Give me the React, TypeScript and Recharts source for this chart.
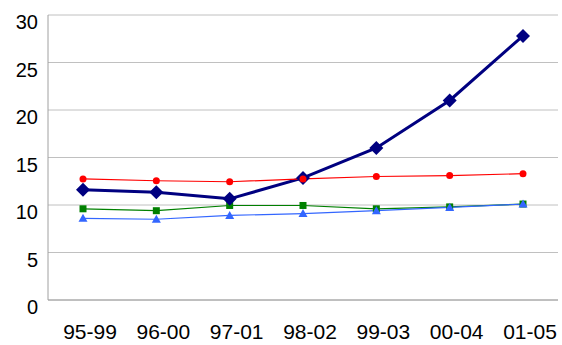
import { LineChart, Line, XAxis, YAxis, CartesianGrid } from 'recharts';

const periods = ['95-99', '96-00', '97-01', '98-02', '99-03', '00-04', '01-05'];
const navySeries = [11.6, 11.35, 10.65, 12.85, 16.0, 21.0, 27.8];
const redSeries = [12.75, 12.55, 12.45, 12.75, 13.0, 13.1, 13.3];
const greenSeries = [9.6, 9.4, 9.95, 9.95, 9.6, 9.8, 10.1];
const blueSeries = [8.6, 8.5, 8.9, 9.1, 9.4, 9.75, 10.1];
const yTicks = [0, 5, 10, 15, 20, 25, 30];

const data = periods.map((p, i) => ({
  period: p,
  navy: navySeries[i],
  red: redSeries[i],
  green: greenSeries[i],
  blue: blueSeries[i],
}));

const FONT = 'Liberation Sans, Arial, sans-serif';
const BORDER = '#a0a0a0';

// marker shapes
const Diamond = (props: any) => {
  const { cx, cy } = props;
  if (cx == null || cy == null) return null;
  const r = 7;
  return <path d={`M${cx},${cy - r}L${cx + r},${cy}L${cx},${cy + r}L${cx - r},${cy}Z`} fill="#000080" />;
};

const Square = (props: any) => {
  const { cx, cy } = props;
  if (cx == null || cy == null) return null;
  return <rect x={cx - 3.5} y={cy - 3.5} width={7} height={7} fill="#008000" />;
};

const Triangle = (props: any) => {
  const { cx, cy } = props;
  if (cx == null || cy == null) return null;
  return <path d={`M${cx},${cy - 4.5}L${cx + 4.5},${cy + 3.5}L${cx - 4.5},${cy + 3.5}Z`} fill="#3366ff" />;
};

const Circle = (props: any) => {
  const { cx, cy } = props;
  if (cx == null || cy == null) return null;
  return <circle cx={cx} cy={cy} r={3.5} fill="#ff0000" />;
};

const YTick = (props: any) => {
  const { x, y, payload } = props;
  return (
    <text x={x - 2} y={y + 14} textAnchor="end" fontSize={20} fontFamily={FONT} fill="#000">
      {payload.value}
    </text>
  );
};

const XTick = (props: any) => {
  const { x, y, payload } = props;
  return (
    <text x={x + 7} y={y + 14} textAnchor="middle" fontSize={21} fontFamily={FONT} fill="#000">
      {payload.value}
    </text>
  );
};

export default function App() {
  return (
    <div style={{ position: 'absolute', left: 0, top: 0, width: 562, height: 345, background: '#fff' }}>
      <LineChart width={562} height={345} data={data} margin={{ top: 15, right: 4, left: 0, bottom: 0 }}>
        <CartesianGrid vertical={false} stroke="#c0c0c0" strokeWidth={1} />
        <XAxis
          dataKey="period"
          height={45}
          padding={{ left: 35, right: 35 }}
          axisLine={{ stroke: BORDER }}
          tickLine={false}
          tickSize={0}
          tickMargin={25}
          tick={<XTick />}
          interval={0}
        />
        <XAxis xAxisId="top" orientation="top" dataKey="period" height={0} axisLine={{ stroke: BORDER }} tick={false} tickLine={false} />
        <YAxis
          width={48}
          domain={[0, 30]}
          ticks={yTicks}
          axisLine={{ stroke: BORDER }}
          tickLine={false}
          tickSize={0}
          tickMargin={8}
          tick={<YTick />}
        />
        <YAxis yAxisId="right" orientation="right" width={0} domain={[0, 30]} axisLine={{ stroke: BORDER }} tick={false} tickLine={false} />
        <Line dataKey="green" stroke="#008000" strokeWidth={1.2} dot={<Square />} isAnimationActive={false} />
        <Line dataKey="blue" stroke="#3366ff" strokeWidth={1.2} dot={<Triangle />} isAnimationActive={false} />
        <Line dataKey="navy" stroke="#000080" strokeWidth={3} dot={<Diamond />} isAnimationActive={false} />
        <Line dataKey="red" stroke="#ff0000" strokeWidth={1.2} dot={<Circle />} isAnimationActive={false} />
      </LineChart>
    </div>
  );
}
